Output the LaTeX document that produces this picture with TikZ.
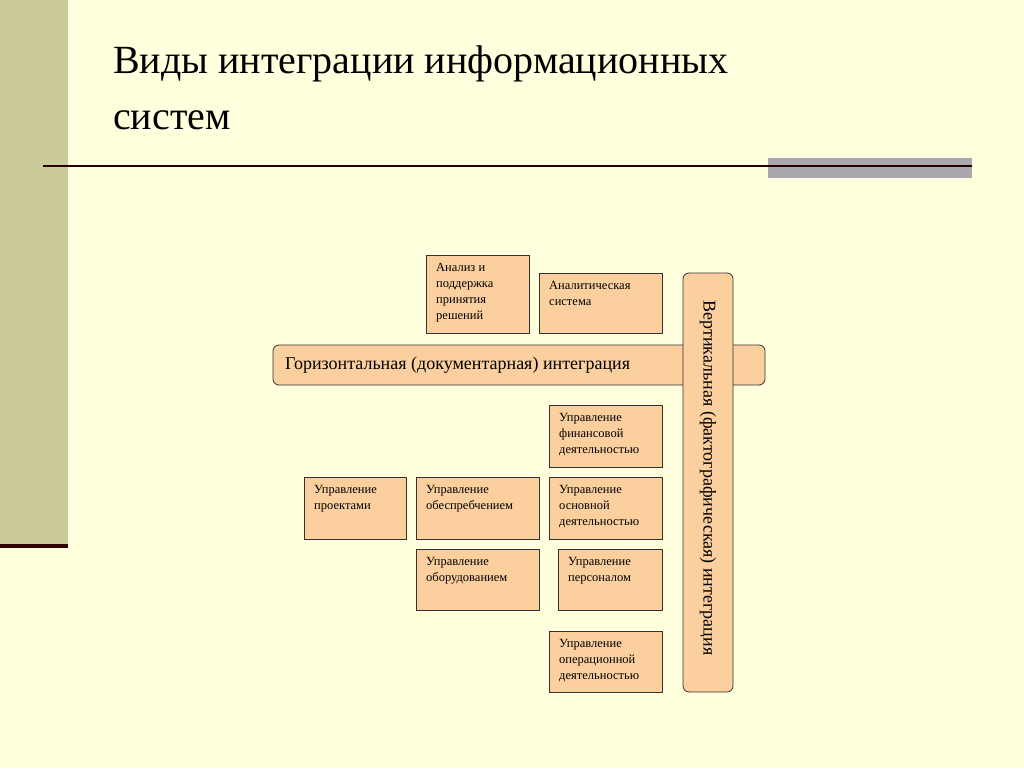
\documentclass[tikz,border=0pt]{standalone}
\usepackage{fontspec}
\setmainfont{Liberation Serif}
\definecolor{bg}{HTML}{FFFFDD}
\definecolor{strip}{HTML}{CBCB99}
\definecolor{boxf}{HTML}{FBCF9E}
\definecolor{gbar}{HTML}{AAA8AE}
\begin{document}
\begin{tikzpicture}[x=1pt,y=-1pt,
  bx/.style={draw=black!80,line width=0.8pt,fill=boxf},
  lbl/.style={anchor=north west,align=left,font=\fontsize{12.5}{16}\selectfont,inner sep=0pt}]
\fill[bg] (0,0) rectangle (1024,768);
\useasboundingbox (0,0) rectangle (1024,768);
\fill[strip] (0,0) rectangle (68,547);
\fill[black!80!red] (0,544) rectangle (68,548);
\fill[gbar] (768,158) rectangle (972,178);
\draw[line width=2pt,black!85!red] (43,166) -- (972,166);
\node[anchor=north west,align=left,inner sep=0pt,font=\fontsize{40}{56}\selectfont] (title) at (113,46) {Виды интеграции информационных\\систем};
% boxes
\newcommand{\mybox}[6]{\draw[bx] (#2,#3) rectangle (#4,#5); \node[lbl] (#1) at (#2+10,#3+8) {#6};}
\mybox{a1}{426}{255}{529}{333}{Анализ и\\поддержка\\принятия\\решений}
\mybox{a2}{539}{273}{662}{333}{Аналитическая\\система}
\draw[bx,rounded corners=6pt] (273,345) rectangle (765,385);
\node[font=\fontsize{18}{20}\selectfont,anchor=west,inner sep=0pt] (hor) at (285,365) {Горизонтальная (документарная) интеграция};
\draw[bx,rounded corners=6pt] (683,273) rectangle (733,692);
\node[font=\fontsize{18}{20}\selectfont,rotate=-90,inner sep=0pt] (ver) at (708,478) {Вертикальная (фактографическая) интеграция};
\mybox{b1}{549}{405}{662}{467}{Управление\\финансовой\\деятельностью}
\mybox{b2}{304}{477}{406}{539}{Управление\\проектами}
\mybox{b3}{416}{477}{539}{539}{Управление\\обеспребчением}
\mybox{b4}{549}{477}{662}{539}{Управление\\основной\\деятельностью}
\mybox{b5}{416}{549}{539}{610}{Управление\\оборудованием}
\mybox{b6}{558}{549}{662}{610}{Управление\\персоналом}
\mybox{b7}{549}{631}{662}{692}{Управление\\операционной\\деятельностью}
\end{tikzpicture}
\end{document}
